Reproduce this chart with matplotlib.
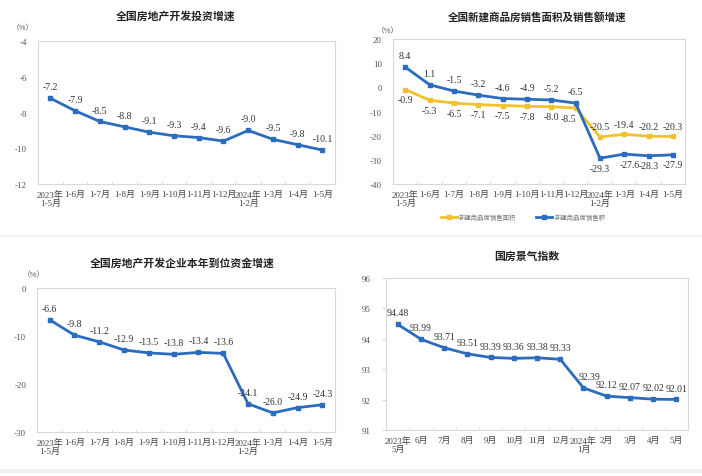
import matplotlib
matplotlib.use("Agg")
import matplotlib.pyplot as plt
from matplotlib.lines import Line2D

plt.rcParams['font.family'] = ['Liberation Serif', 'Noto Sans CJK SC']

# data
labels_ytd = ['2023年\n1-5月', '1-6月', '1-7月', '1-8月', '1-9月', '1-10月', '1-11月',
              '1-12月', '2024年\n1-2月', '1-3月', '1-4月', '1-5月']
labels_month = ['2023年\n5月', '6月', '7月', '8月', '9月', '10月', '11月',
                '12月', '2024年\n1月', '2月', '3月', '4月', '5月']
invest = [-7.2, -7.9, -8.5, -8.8, -9.1, -9.3, -9.4, -9.6, -9.0, -9.5, -9.8, -10.1]
sales_area = [-0.9, -5.3, -6.5, -7.1, -7.5, -7.8, -8.0, -8.5, -20.5, -19.4, -20.2, -20.3]
sales_value = [8.4, 1.1, -1.5, -3.2, -4.6, -4.9, -5.2, -6.5, -29.3, -27.6, -28.3, -27.9]
funds = [-6.6, -9.8, -11.2, -12.9, -13.5, -13.8, -13.4, -13.6, -24.1, -26.0, -24.9, -24.3]
climate = [94.48, 93.99, 93.71, 93.51, 93.39, 93.36, 93.38, 93.33, 92.39, 92.12, 92.07, 92.02, 92.01]

BLUE = '#2b6cbf'
YELLOW = '#f2c12e'
GRID = '#d8d8d8'
TXT = '#333333'
CJK = ['Noto Sans CJK SC', 'DejaVu Sans']

fig = plt.figure(figsize=(7.02, 4.77), dpi=100)
fig.patch.set_facecolor('white')


def style_axes(ax, labels, ylim, yticks, yticks_marks=False):
    n = len(labels)
    ax.set_xlim(-0.5, n - 0.5)
    ax.set_ylim(*ylim)
    ax.set_yticks(yticks)
    ax.set_yticklabels([f'{v:g}' for v in yticks], fontsize=6.5, color='#555555')
    ax.set_xticks(range(n))
    ax.set_xticklabels(labels, fontsize=6.5, color='#444444', linespacing=1.1)
    ax.set_xticks([i + 0.5 for i in range(n - 1)], minor=True)
    ax.tick_params(axis='x', which='major', length=0, pad=4)
    ax.tick_params(axis='x', which='minor', length=2, color=GRID, direction='in')
    ax.tick_params(axis='y', length=3 if yticks_marks else 0, color=GRID, pad=8)
    for sp in ax.spines.values():
        sp.set_color(GRID)
        sp.set_linewidth(0.8)


def annotate(ax, ys, dy, fmt='{:.1f}', color=TXT, idx=None, shift=None):
    shift = shift or {}
    for i, v in enumerate(ys):
        if idx is not None and i not in idx:
            continue
        ax.annotate(fmt.format(v), (i, v), xytext=(shift.get(i, 0), dy),
                    textcoords='offset points', ha='center',
                    va='bottom' if dy > 0 else 'top', fontsize=7, color=color)


# panel 1
ax1 = fig.add_axes([0.054, 0.612, 0.423, 0.300])
ax1.plot(range(len(invest)), invest, color=BLUE, lw=2, marker='s', ms=3)
style_axes(ax1, labels_ytd, (-12, -4), [-12, -10, -8, -6, -4])
annotate(ax1, invest, 5)
fig.text(0.25, 0.965, '全国房地产开发投资增速', ha='center', va='center',
         fontsize=7.8, fontweight='bold', family=CJK, color='#222222')
ax1.text(-0.05, 1.08, '（%）', transform=ax1.transAxes, fontsize=5.5, family=CJK,
         color='#555555', ha='center')

# panel 2
ax2 = fig.add_axes([0.560, 0.612, 0.416, 0.304])
x = range(len(sales_area))
ax2.plot(x, sales_area, color=YELLOW, lw=2, marker='s', ms=3)
ax2.plot(x, sales_value, color=BLUE, lw=2, marker='s', ms=3)
style_axes(ax2, labels_ytd, (-40, 20), [-40, -30, -20, -10, 0, 10, 20])
annotate(ax2, sales_value, 5, idx=range(8))
annotate(ax2, sales_area, -4, idx=range(8), shift={7: -5})
annotate(ax2, sales_area, 4, idx=range(8, 12))
annotate(ax2, sales_value, -4, idx=range(8, 12), shift={9: 4})
fig.text(0.765, 0.963, '全国新建商品房销售面积及销售额增速', ha='center', va='center',
         fontsize=7.6, fontweight='bold', family=CJK, color='#222222')
ax2.text(-0.02, 1.05, '（%）', transform=ax2.transAxes, fontsize=5.5, family=CJK,
         color='#555555', ha='center')
handles = [Line2D([], [], color=YELLOW, lw=2, marker='s', ms=3),
           Line2D([], [], color=BLUE, lw=2, marker='s', ms=3)]
fig.legend(handles, ['新建商品房销售面积', '新建商品房销售额'], loc='center',
           bbox_to_anchor=(0.745, 0.543), ncol=2, frameon=False, columnspacing=3,
           handlelength=2.5, handletextpad=0.4,
           prop={'family': CJK, 'size': 4.6}, labelcolor='#777777')

# panel 3
ax3 = fig.add_axes([0.053, 0.092, 0.424, 0.302])
ax3.plot(range(len(funds)), funds, color=BLUE, lw=2, marker='s', ms=3)
style_axes(ax3, labels_ytd, (-30, 0), [-30, -20, -10, 0])
annotate(ax3, funds, 5)
fig.text(0.26, 0.448, '全国房地产开发企业本年到位资金增速', ha='center', va='center',
         fontsize=7.8, fontweight='bold', family=CJK, color='#222222')
ax3.text(-0.01, 1.08, '（%）', transform=ax3.transAxes, fontsize=5.5, family=CJK,
         color='#555555', ha='center')

# panel 4
ax4 = fig.add_axes([0.550, 0.096, 0.430, 0.319])
ax4.plot(range(len(climate)), climate, color=BLUE, lw=2, marker='s', ms=3)
style_axes(ax4, labels_month, (91, 96), [91, 92, 93, 94, 95, 96], yticks_marks=True)
annotate(ax4, climate, 5, fmt='{:.2f}', shift={8: 4})
fig.text(0.75, 0.461, '国房景气指数', ha='center', va='center',
         fontsize=7.8, fontweight='bold', family=CJK, color='#222222')

# faint separators
fig.add_artist(Line2D([0.0, 1.0], [0.503, 0.503], color='#f0f0f0', lw=1.2))
fig.add_artist(Line2D([0.0, 1.0], [0.01, 0.01], color='#f0f0f0', lw=3))

fig.savefig('out.png', dpi=100)
